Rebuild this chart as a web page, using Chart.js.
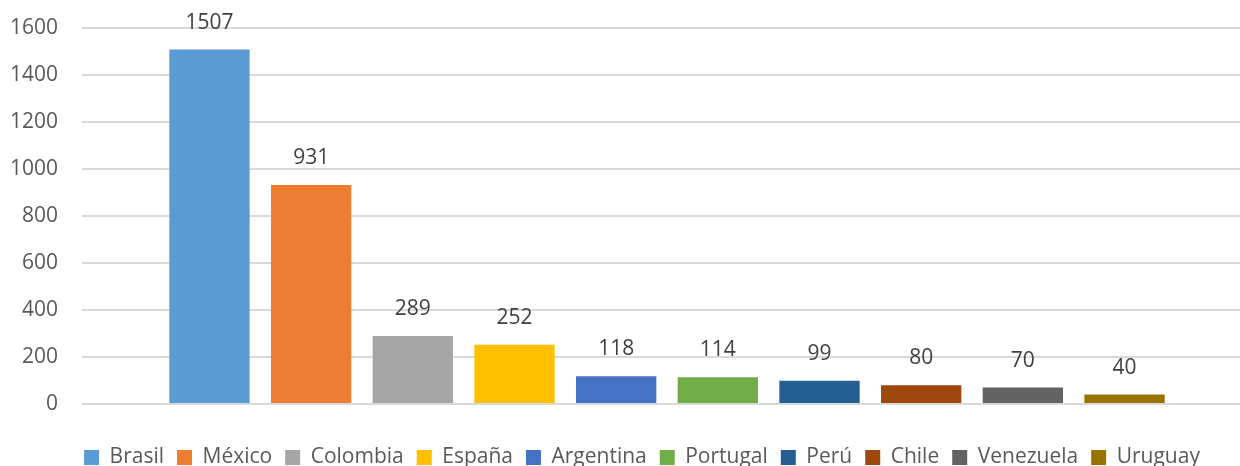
<!DOCTYPE html>
<html>
<head>
<meta charset="utf-8">
<script src="https://cdn.jsdelivr.net/npm/chart.js@4.4.0/dist/chart.umd.min.js"></script>
<style>
  html, body { margin: 0; padding: 0; background: #ffffff; }
  #wrap { width: 1240px; height: 466px; }
</style>
</head>
<body>
<div id="wrap"><canvas id="countries-chart"></canvas></div>
<script>
// Series (one per country, Excel style)
const countries = ['Brasil', 'México', 'Colombia', 'España', 'Argentina', 'Portugal', 'Perú', 'Chile', 'Venezuela', 'Uruguay'];
const counts = [1507, 931, 289, 252, 118, 114, 99, 80, 70, 40];
const colors = ['#5B9BD5', '#ED7D31', '#A5A5A5', '#FFC000', '#4472C4', '#70AD47', '#255E91', '#9E480E', '#636363', '#997300'];
const yTicks = [0, 200, 400, 600, 800, 1000, 1200, 1400, 1600];

const FONT = '"Open Sans", "Noto Sans", sans-serif';

// draws the value above each bar
const valueLabels = {
    id: 'valueLabels',
    afterDatasetsDraw(chart) {
        const ctx = chart.ctx;
        ctx.save();
        ctx.font = '21px ' + FONT;
        ctx.fillStyle = '#404040';
        ctx.textAlign = 'center';
        ctx.textBaseline = 'middle';
        chart.data.datasets.forEach((ds, i) => {
            const bar = chart.getDatasetMeta(i).data[0];
            if (!bar) return;
            ctx.fillText(ds.data[0], bar.x, bar.y - 27);
        });
        ctx.restore();
    }
};

// Excel layout quirks: legend sits right of centre, and the bar group
// is centred on a category band that runs a bit past the right edge
const excelLayout = {
    id: 'excelLayout',
    afterLayout(chart) {
        if (chart.legend) {
            chart.legend.left += 17;
            chart.legend.right += 17;
        }
        const x = chart.scales.x;
        x.right += 12;
        x.width += 12;
        x.configure();
    }
};

document.addEventListener('DOMContentLoaded', function() {
    const ctx = document.getElementById('countries-chart');

    new Chart(ctx, {
        type: 'bar',
        data: {
            labels: [''],
            datasets: countries.map((name, i) => ({
                label: name,
                data: [counts[i]],
                backgroundColor: colors[i],
                borderWidth: 0,
                categoryPercentage: 0.869,
                barPercentage: 0.79
            }))
        },
        options: {
            responsive: true,
            maintainAspectRatio: false,
            animation: false,
            layout: {
                padding: { top: 0, left: 10, right: 0, bottom: -12 }
            },
            scales: {
                x: {
                    grid: { display: false },
                    border: { display: false },
                    ticks: { display: false },
                    afterFit: function(scale) { scale.height = 30; }
                },
                y: {
                    min: 0,
                    max: 1600,
                    afterBuildTicks: function(scale) {
                        scale.ticks = yTicks.map(v => ({ value: v }));
                    },
                    afterFit: function(scale) { scale.width = 72; },
                    grid: {
                        color: '#d9d9d9',
                        lineWidth: 2,
                        drawTicks: false
                    },
                    border: { display: false },
                    ticks: {
                        color: '#595959',
                        padding: 24,
                        font: { family: FONT, size: 21, lineHeight: 0.35 },
                        callback: function(value) { return String(value); }
                    }
                }
            },
            plugins: {
                legend: {
                    position: 'bottom',
                    labels: {
                        color: '#595959',
                        boxWidth: 15,
                        boxHeight: 15,
                        padding: 13,
                        font: { family: FONT, size: 21 }
                    }
                },
                tooltip: { enabled: false }
            }
        },
        plugins: [valueLabels, excelLayout]
    });
});
</script>
</body>
</html>
